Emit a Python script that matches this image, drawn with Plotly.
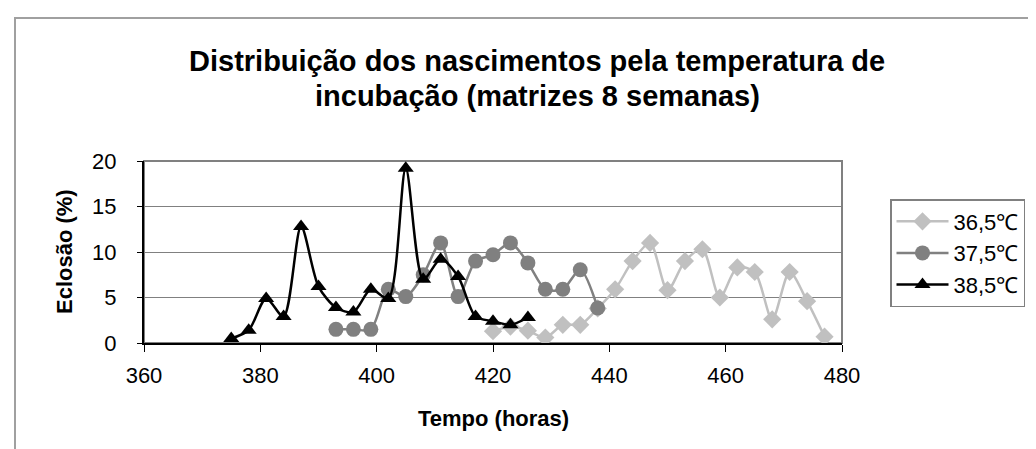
import plotly.graph_objects as go

# ---- data ----
hours_365 = [420, 423, 426, 429, 432, 435, 438, 441, 444, 447, 450, 453, 456, 459, 462, 465, 468, 471, 474, 477]
eclosao_365 = [1.3, 1.8, 1.35, 0.6, 2.0, 2.0, 3.8, 5.9, 9.0, 11.0, 5.8, 9.0, 10.3, 5.0, 8.3, 7.8, 2.6, 7.8, 4.6, 0.7]

hours_375 = [393, 396, 399, 402, 405, 408, 411, 414, 417, 420, 423, 426, 429, 432, 435, 438]
eclosao_375 = [1.5, 1.5, 1.5, 5.9, 5.1, 7.5, 11.0, 5.1, 9.0, 9.7, 11.0, 8.8, 5.9, 5.9, 8.05, 3.85]

hours_385 = [375, 378, 381, 384, 387, 390, 393, 396, 399, 402, 405, 408, 411, 414, 417, 420, 423, 426]
eclosao_385 = [0.5, 1.4, 4.9, 2.9, 12.8, 6.2, 3.9, 3.4, 5.9, 4.9, 19.2, 7.0, 9.2, 7.3, 2.9, 2.4, 2.0, 2.8]

series_names = ["36,5\u2103", "37,5\u2103", "38,5\u2103"]
x_ticks = [360, 380, 400, 420, 440, 460, 480]
y_ticks = [0, 5, 10, 15, 20]

title_lines = ["Distribuição dos nascimentos pela temperatura de",
               "incubação (matrizes 8 semanas)"]
x_title = "Tempo (horas)"
y_title = "Eclosão (%)"

FONT = "Liberation Sans, Arial, sans-serif"
FS = 22

W, H = 1036, 449
L, R, T, B = 136, 834, 153, 335  # plot area pixel edges
pw, ph = R - L, B - T


def px_x(p):
    return (p - L) / pw


def px_y(p):
    return (B - p) / ph


fig = go.Figure()
fig.add_trace(go.Scatter(
    x=hours_365, y=eclosao_365, name=series_names[0], mode="lines+markers",
    line=dict(color="#C0C0C0", width=2.5, shape="spline", smoothing=0.8),
    marker=dict(symbol="diamond", size=14, color="#C0C0C0"),
    legendgroup="a"))
fig.add_trace(go.Scatter(
    x=hours_375, y=eclosao_375, name=series_names[1], mode="lines+markers",
    line=dict(color="#808080", width=2.5, shape="spline", smoothing=0.8),
    marker=dict(symbol="circle", size=15, color="#808080"),
    legendgroup="b"))
fig.add_trace(go.Scatter(
    x=hours_385, y=eclosao_385, name=series_names[2], mode="lines+markers",
    line=dict(color="#000000", width=2.5, shape="spline", smoothing=0.8),
    marker=dict(symbol="triangle-up", size=14, color="#000000"),
    legendgroup="c"))

annotations = [
    dict(text="<b>" + title_lines[0] + "</b>", xref="paper", yref="paper",
         x=px_x(529), y=px_y(53), xanchor="center", yanchor="middle",
         showarrow=False, font=dict(family=FONT, size=29, color="black")),
    dict(text="<b>" + title_lines[1] + "</b>", xref="paper", yref="paper",
         x=px_x(529), y=px_y(88), xanchor="center", yanchor="middle",
         showarrow=False, font=dict(family=FONT, size=29, color="black")),
    dict(text="<b>" + x_title + "</b>", xref="paper", yref="paper",
         x=px_x(485), y=px_y(410), xanchor="center", yanchor="middle",
         showarrow=False, font=dict(family=FONT, size=FS, color="black")),
    dict(text="<b>" + y_title + "</b>", xref="paper", yref="paper",
         x=px_x(56), y=px_y(244), xanchor="center", yanchor="middle",
         textangle=-90, showarrow=False,
         font=dict(family=FONT, size=FS, color="black")),
]

fig.update_layout(
    width=W, height=H,
    margin=dict(l=L, r=W - R, t=T, b=H - B, pad=0),
    paper_bgcolor="white", plot_bgcolor="white",
    font=dict(family=FONT, size=FS, color="black"),
    showlegend=True,
    legend=dict(
        x=px_x(882), y=px_y(299), xanchor="left", yanchor="bottom",
        bordercolor="#808080", borderwidth=1.5, bgcolor="white",
        font=dict(family=FONT, size=FS, color="black"),
        itemwidth=52, tracegroupgap=10, traceorder="normal",
    ),
    xaxis=dict(
        range=[360, 480], tickvals=x_ticks, ticktext=[str(v) for v in x_ticks],
        showgrid=False, zeroline=False,
        showline=True, linecolor="black", linewidth=2,
        ticks="outside", ticklen=7, tickcolor="black", tickwidth=1,
        ticklabelstandoff=5,
        tickfont=dict(size=FS), fixedrange=True,
    ),
    yaxis=dict(
        range=[0, 20], tickvals=y_ticks, ticktext=[str(v) for v in y_ticks],
        showgrid=True, gridcolor="#808080", gridwidth=1, zeroline=False,
        showline=True, linecolor="black", linewidth=2,
        ticks="outside", ticklen=5, tickcolor="black", tickwidth=1,
        ticklabelstandoff=16,
        tickfont=dict(size=FS), fixedrange=True,
    ),
    shapes=[
        dict(type="rect", xref="paper", yref="paper", x0=0, x1=1, y0=0, y1=1,
             line=dict(color="#808080", width=2), layer="below"),
        dict(type="rect", xref="paper", yref="paper",
             x0=px_x(7), x1=px_x(1060), y0=px_y(470), y1=px_y(10),
             line=dict(color="#A0A0A0", width=2), layer="below"),
    ],
    annotations=annotations,
)

fig.write_html("out.html")
